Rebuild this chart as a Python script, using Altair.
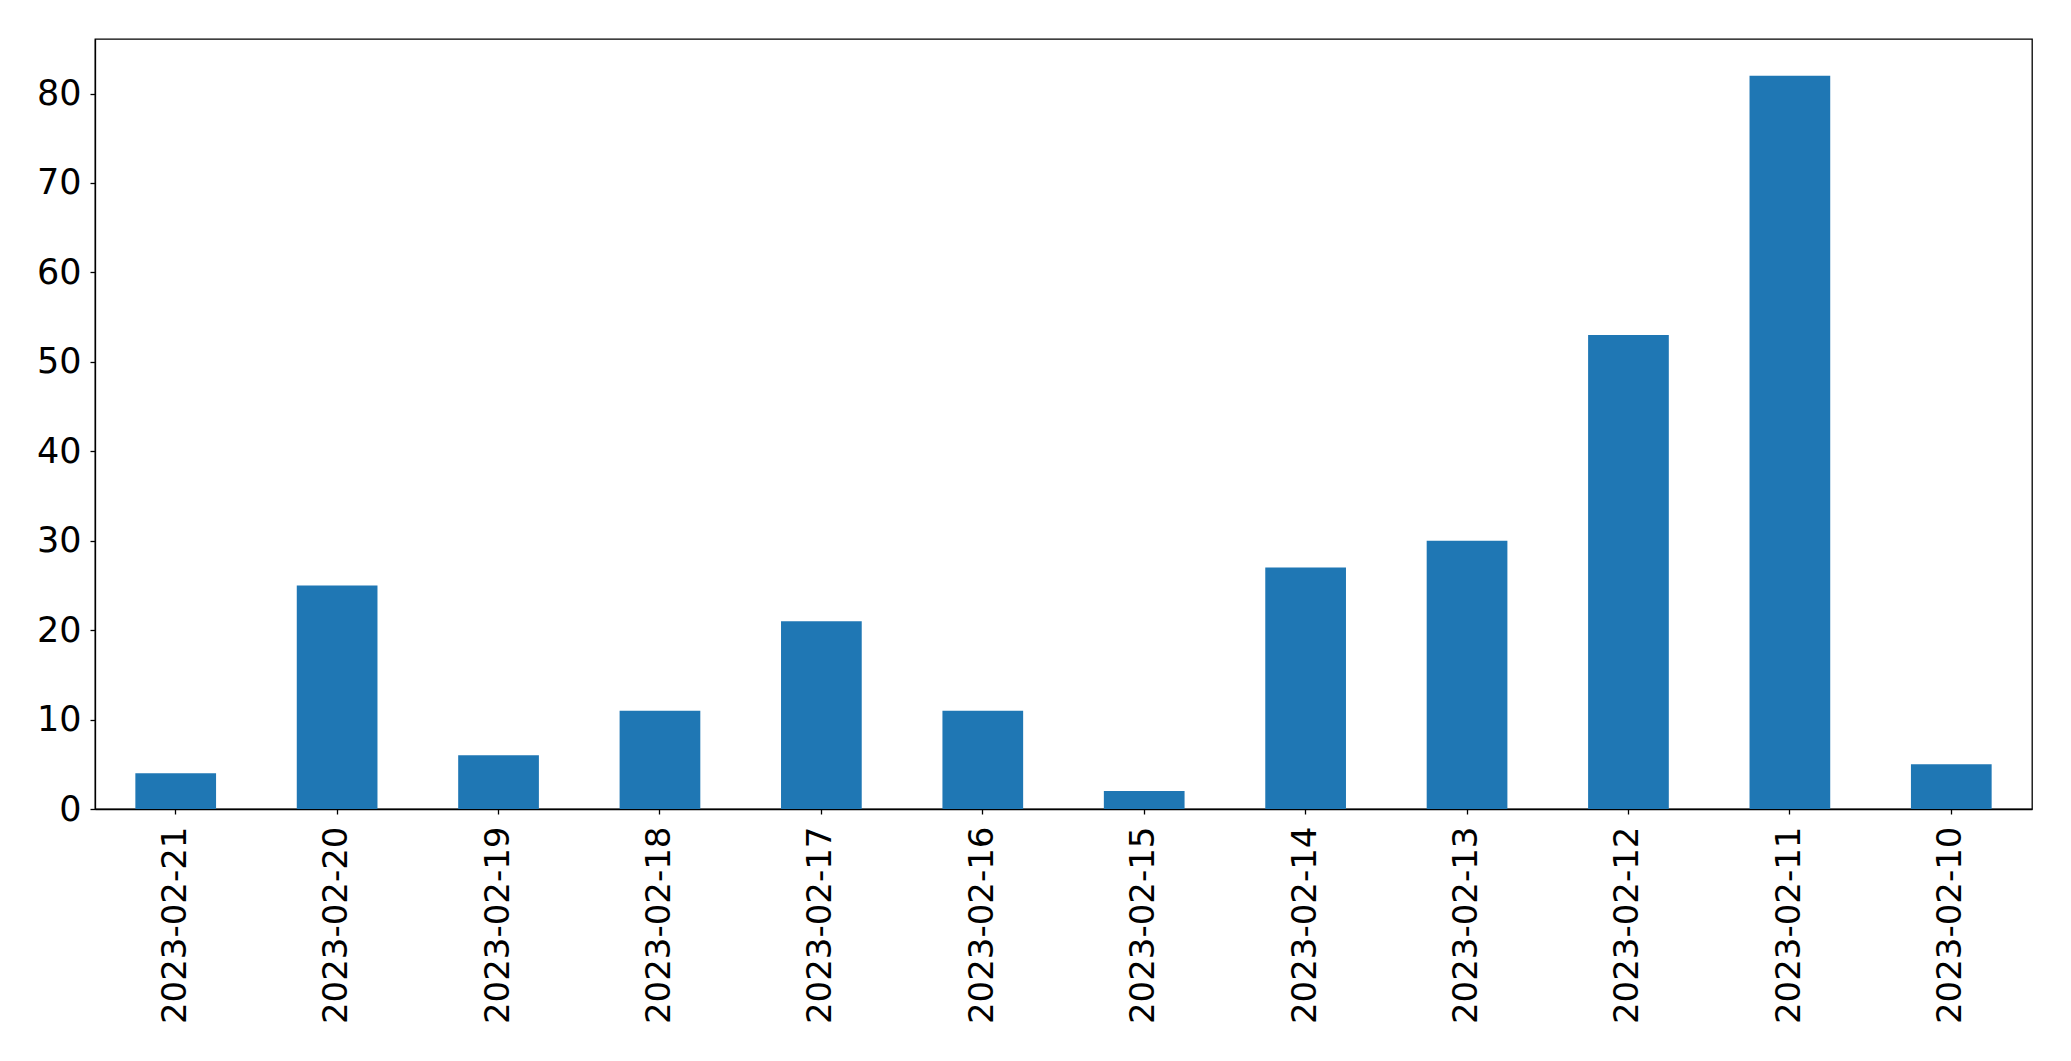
import altair as alt
import pandas as pd

dates = ["2023-02-21", "2023-02-20", "2023-02-19", "2023-02-18", "2023-02-17", "2023-02-16",
         "2023-02-15", "2023-02-14", "2023-02-13", "2023-02-12", "2023-02-11", "2023-02-10"]
counts = [4, 25, 6, 11, 21, 11, 2, 27, 30, 53, 82, 5]
y_ticks = [0, 10, 20, 30, 40, 50, 60, 70, 80]

df = pd.DataFrame({"date": dates, "count": counts})

chart = alt.Chart(df).mark_bar(color="#1f77b4").encode(
    x=alt.X("date:N", sort=dates, title=None,
            scale=alt.Scale(paddingInner=0.5, paddingOuter=0.25),
            axis=alt.Axis(labelAngle=270, labelFontSize=34, labelFont="DejaVu Sans",
                          labelColor="black", tickColor="black", tickSize=5,
                          labelPadding=12, domainColor="black", labelLimit=0,
                          labelOverlap=False, labelBound=False)),
    y=alt.Y("count:Q", title=None,
            scale=alt.Scale(domain=[0, 86.1], nice=False, zero=True),
            axis=alt.Axis(values=y_ticks, grid=False, labelFontSize=35, labelFont="DejaVu Sans",
                          labelColor="black", tickColor="black", tickSize=5,
                          labelPadding=9, domainColor="black", labelLimit=0)),
).properties(
    width=1937, height=770,
    autosize=alt.AutoSizeParams(type="none"),
    padding={"left": 87, "top": 31, "right": 20, "bottom": 235},
).configure_view(stroke="black", strokeWidth=1.3).configure_axis(domainWidth=1.3, tickWidth=1.3)

chart.save("out.html", embed_options={"renderer": "svg", "actions": False})
